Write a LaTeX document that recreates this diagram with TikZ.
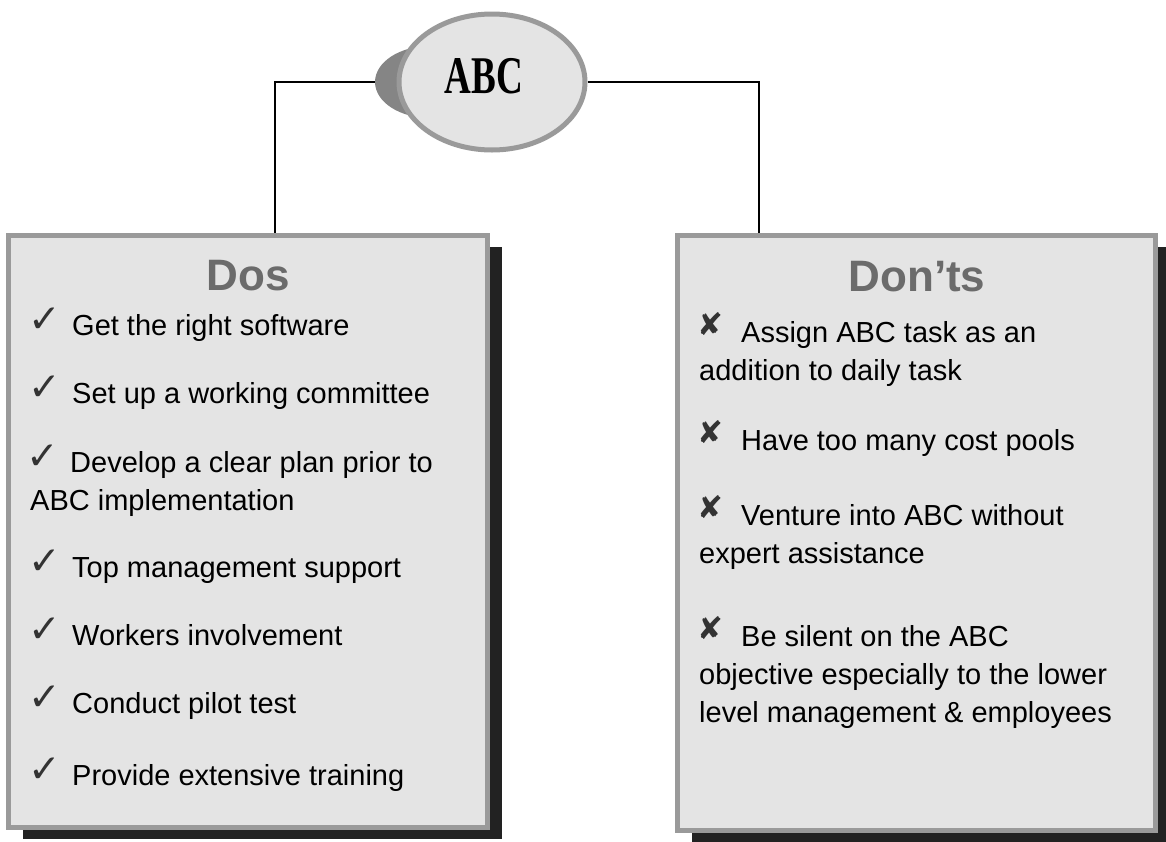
\documentclass[tikz,border=0pt]{standalone}
\usepackage{fontspec}
\usepackage{graphicx}
\setmainfont{Liberation Sans}
\newfontfamily\symfont{DejaVu Sans}
\newfontfamily\ovalfont{Liberation Serif}
\usetikzlibrary{shapes.geometric,shadows,backgrounds}
\definecolor{boxfill}{HTML}{E4E4E4}
\definecolor{boxline}{HTML}{9A9A9A}
\definecolor{boxshade}{HTML}{222222}
\definecolor{ovalshade}{HTML}{858585}
\definecolor{headgray}{HTML}{6B6B6B}
\definecolor{markgray}{HTML}{333333}
\newcommand{\dochk}{\makebox[40pt][l]{\hspace{-4pt}\raisebox{3pt}{\symfont\color{markgray}\fontsize{39}{39}\selectfont ✓}}}
\newcommand{\dontx}{\makebox[42pt][l]{\hspace{-2pt}\raisebox{7pt}{\symfont\color{markgray}\fontsize{31}{31}\selectfont ✘}}}
\begin{document}
\begin{tikzpicture}[x=1pt, y=-1pt,
	panel/.style={rectangle, draw=boxline, fill=boxfill, line width=5pt,
		drop shadow={shadow xshift=14pt, shadow yshift=-11pt, fill=boxshade, opacity=1}},
	oval/.style={ellipse, draw=boxline, fill=boxfill, line width=5pt, minimum width=186pt, minimum height=136pt},
	ovalshadow/.style={ellipse, fill=ovalshade, minimum width=110pt, minimum height=72pt, inner sep=0pt},
	head/.style={anchor=base, inner sep=0pt, text=headgray, font=\bfseries\fontsize{44}{44}\selectfont},
	item/.style={anchor=base west, inner sep=0pt, align=left, font=\fontsize{29}{38}\selectfont},
	link/.style={draw=black, line width=1.2pt}]
	\useasboundingbox (0,0) rectangle (1166,841);
	\node[panel, minimum width=479pt, minimum height=592pt] (dos) at (248,531.5) {};
	\node[panel, minimum width=478pt, minimum height=595pt] (donts) at (916.5,533) {};
	\node[ovalshadow] (abcshade) at (430,82) {};
	\node[oval] (abc) at (492,82) {};
	\node[anchor=base, inner sep=0pt] (abctext) at (484,93) {\ovalfont\bfseries\fontsize{53}{53}\selectfont\scalebox{0.7}[1]{ABC}};
	\begin{scope}[on background layer]
		\fill[white] (0,0) rectangle (1166,841);
		\draw[link] (abcshade.west) -| ([xshift=27pt]dos.north);
		\draw[link] (abc.east) -| ([xshift=-157.5pt]donts.north);
	\end{scope}
	% dos (multi-line nodes sit on their last baseline)
	\node[head] (doshead) at (248,290) {Dos};
	\node[item] (do1) at (32,335) {\dochk Get the right software};
	\node[item] (do2) at (32,403) {\dochk Set up a working committee};
	\node[item] (do3) at (30,510) {\dochk Develop a clear plan prior to\\ABC implementation};
	\node[item] (do4) at (32,577) {\dochk Top management support};
	\node[item] (do5) at (32,645) {\dochk Workers involvement};
	\node[item] (do6) at (32,713) {\dochk Conduct pilot test};
	\node[item] (do7) at (32,785) {\dochk Provide extensive training};
	% don'ts
	\node[head] (dontshead) at (917,291) {Don’ts};
	\node[item] (dont1) at (699,380) {\dontx Assign ABC task as an\\addition to daily task};
	\node[item] (dont2) at (699,450) {\dontx Have too many cost pools};
	\node[item] (dont3) at (699,563) {\dontx Venture into ABC without\\expert assistance};
	\node[item] (dont4) at (699,722) {\dontx Be silent on the ABC\\objective especially to the lower\\level management \& employees};
\end{tikzpicture}
\end{document}
